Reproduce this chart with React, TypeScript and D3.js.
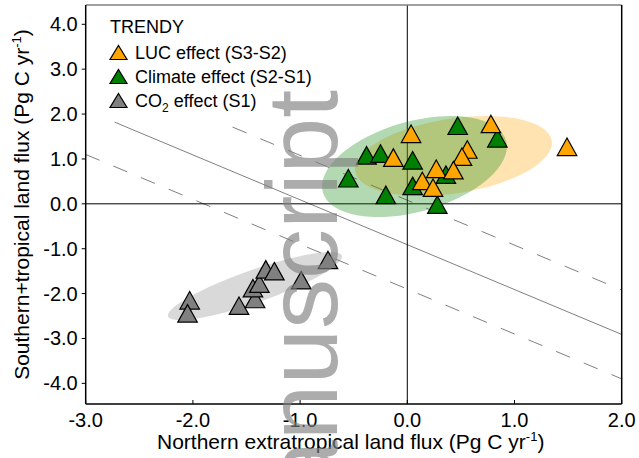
import React from "react";
import * as d3 from "d3";

// ---------- data ----------
const xTicks = [-3, -2, -1, 0, 1, 2];
const yTicks = [-4, -3, -2, -1, 0, 1, 2, 3, 4];

// LUC effect (S3-S2)
const lucX = [0.035, -0.13, 0.56, 0.51, 0.27, 0.43, 0.14, 0.24, 0.78, 1.49];
const lucY = [1.56, 1.03, 1.21, 1.05, 0.78, 0.75, 0.51, 0.36, 1.78, 1.27];
// Climate effect (S2-S1)
const climX = [0.47, -0.38, -0.25, 0.05, 0.36, -0.55, 0.05, -0.2, 0.28, 0.84];
const climY = [1.74, 1.08, 1.12, 0.97, 0.65, 0.57, 0.4, 0.2, -0.02, 1.46];
// CO2 effect (S1)
const co2X = [-2.03, -2.05, -1.57, -1.42, -1.44, -1.38, -1.32, -1.24, -0.99, -0.74];
const co2Y = [-2.15, -2.44, -2.27, -2.12, -1.88, -1.78, -1.46, -1.5, -1.7, -1.25];

// spread ellipses (centre, semi-axes in data units, tilt in degrees)
const lucEllipse = { cx: 0.431, cy: 1.065, rx: 0.928, ry: 0.834, angle: 8.8 };
const climEllipse = { cx: 0.067, cy: 0.831, rx: 0.888, ry: 1.005, angle: 15.7 };
const co2Ellipse = { cx: -1.421, cy: -1.832, rx: 0.858, ry: 0.363, angle: 19.3 };

// total land sink line y = intercept - x, with +/- band
const sinkIntercept = -0.91;
const sinkBand = 0.99;
const lineStartX = [-2.73, -1.63, -3.0]; // centre, upper, lower

const xDomain = [-3, 2];
const yDomain = [-4.46, 4.43];

// ---------- layout ----------
const W = 639;
const H = 458;
const L = 85.7, R = 621.7, T = 5, B = 404;

const FONT = "Liberation Sans, Arial, sans-serif";
const C_LUC = "#FFA500";
const C_CLIM = "#008000";
const C_CO2 = "#808080";

const fmt = (v: number) => (v < 0 ? "-" : "") + Math.abs(v).toFixed(1);

function tri(w: number, h: number) {
  return `M0,${-h / 2}L${w / 2},${h / 2}L${-w / 2},${h / 2}Z`;
}

export default function App() {
  const x = d3.scaleLinear().domain(xDomain).range([L, R]);
  const y = d3.scaleLinear().domain(yDomain).range([B, T]);

  const line = d3
    .line<[number, number]>()
    .x((d) => x(d[0]))
    .y((d) => y(d[1]));

  const intercepts = [sinkIntercept, sinkIntercept + sinkBand, sinkIntercept - sinkBand];

  const ellipse = (e: typeof lucEllipse, color: string, key: string) => (
    <ellipse
      key={key}
      transform={`translate(${x(e.cx)},${y(e.cy)}) rotate(${-e.angle})`}
      rx={x(e.rx) - x(0)}
      ry={y(0) - y(e.ry)}
      fill={color}
      fillOpacity={0.3}
      stroke="none"
    />
  );

  const points = (xs: number[], ys: number[], color: string, key: string) =>
    xs.map((v, i) => (
      <path
        key={key + i}
        d={tri(19.5, 17.5)}
        transform={`translate(${x(v)},${y(ys[i])})`}
        fill={color}
        stroke="#000"
        strokeWidth={1.2}
      />
    ));

  const legendItems = [
    { color: C_LUC, label: <tspan>LUC effect (S3-S2)</tspan> },
    { color: C_CLIM, label: <tspan>Climate effect (S2-S1)</tspan> },
    {
      color: C_CO2,
      label: (
        <>
          <tspan>CO</tspan>
          <tspan fontSize={12} dy={5}>2</tspan>
          <tspan dy={-5}> effect (S1)</tspan>
        </>
      ),
    },
  ];

  return (
    <svg
      width={W}
      height={H}
      style={{ position: "absolute", left: 0, top: 0, background: "#fff" }}
      fontFamily={FONT}
    >
      <rect x={0} y={0} width={W} height={H} fill="#fff" />

      {/* sink lines */}
      {intercepts.map((b, i) => {
        const x0 = lineStartX[i];
        const x1 = xDomain[1];
        return (
          <path
            key={"sl" + i}
            d={line([
              [x0, b - x0],
              [x1, b - x1],
            ]) as string}
            fill="none"
            stroke="#808080"
            strokeWidth={1}
            strokeDasharray={i === 0 ? undefined : "15,15"}
          />
        );
      })}

      {/* zero lines */}
      <line x1={x(0)} x2={x(0)} y1={T} y2={B} stroke="#000" strokeWidth={1} />
      <line x1={L} x2={R} y1={y(0)} y2={y(0)} stroke="#000" strokeWidth={1} />

      {/* ellipses */}
      {ellipse(lucEllipse, C_LUC, "e1")}
      {ellipse(climEllipse, C_CLIM, "e2")}
      {ellipse(co2Ellipse, C_CO2, "e3")}

      {/* points */}
      {points(co2X, co2Y, C_CO2, "c")}
      {points(climX, climY, C_CLIM, "g")}
      {points(lucX, lucY, C_LUC, "o")}

      {/* frame */}
      <line x1={L} x2={R} y1={T} y2={T} stroke="#808080" strokeWidth={1.5} />
      <line x1={R} x2={R} y1={T} y2={B} stroke="#000" strokeWidth={1.5} />
      <line x1={L} x2={L} y1={T} y2={B} stroke="#000" strokeWidth={1.5} />
      <line x1={L} x2={R} y1={B} y2={B} stroke="#000" strokeWidth={1.5} />

      {/* y ticks */}
      {yTicks.map((t) => (
        <g key={"yt" + t}>
          <line x1={L - 4} x2={L} y1={y(t)} y2={y(t)} stroke="#000" strokeWidth={1} />
          <text x={L - 8} y={y(t)} dy="0.35em" textAnchor="end" fontSize={20} fill="#000">
            {fmt(t)}
          </text>
        </g>
      ))}
      {/* x ticks */}
      {xTicks.map((t) => (
        <g key={"xt" + t}>
          <line x1={x(t)} x2={x(t)} y1={B} y2={B - 4} stroke="#000" strokeWidth={1} />
          <text x={x(t)} y={B + 23} textAnchor="middle" fontSize={20} fill="#000">
            {fmt(t)}
          </text>
        </g>
      ))}

      {/* axis labels */}
      <text x={(L + R) / 2 - 3} y={449} textAnchor="middle" fontSize={21} fill="#000">
        <tspan>Northern extratropical land flux (Pg C yr</tspan>
        <tspan fontSize={13} dy={-8}>-1</tspan>
        <tspan dy={8}>)</tspan>
      </text>
      <text
        transform={`translate(29,${(T + B) / 2}) rotate(-90)`}
        textAnchor="middle"
        fontSize={21}
        fill="#000"
      >
        <tspan>Southern+tropical land flux (Pg C yr</tspan>
        <tspan fontSize={13} dy={-8}>-1</tspan>
        <tspan dy={8}>)</tspan>
      </text>

      {/* legend */}
      <text x={110} y={33} fontSize={18} fill="#000">TRENDY</text>
      {legendItems.map((it, i) => (
        <g key={"lg" + i} transform={`translate(0,${52.5 + i * 24})`}>
          <path d={tri(17, 14)} transform="translate(118.5,0)" fill={it.color} stroke="#000" strokeWidth={1.2} />
          <text x={135} y={6.5} fontSize={18} fill="#000">
            {it.label}
          </text>
        </g>
      ))}

      {/* watermark */}
      <text
        transform="translate(337,90) rotate(-90)"
        textAnchor="end"
        fontSize={100}
        fill="#808080"
        fillOpacity={0.65}
      >
        Manuscript
      </text>
    </svg>
  );
}
